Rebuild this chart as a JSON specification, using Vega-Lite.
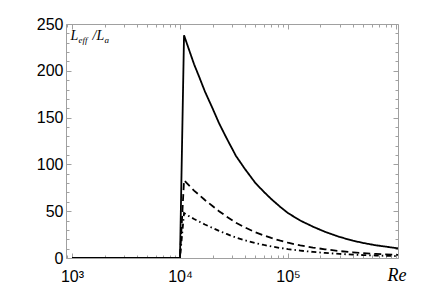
{
  "$schema": "https://vega.github.io/schema/vega-lite/v6.json",
  "width": 332,
  "height": 234,
  "autosize": {"type": "none"},
  "padding": {"left": 66, "top": 24, "right": 38, "bottom": 36},
  "background": "white",
  "config": {
    "view": {"stroke": null},
    "axis": {
      "grid": false,
      "domainColor": "#a0a0a0",
      "tickColor": "#a0a0a0",
      "domainWidth": 1,
      "tickWidth": 1,
      "labelColor": "black",
      "labelFont": "Liberation Sans",
      "labelFontSize": 16,
      "titleFont": "Liberation Serif",
      "titleFontStyle": "italic",
      "titleFontWeight": "normal",
      "titleColor": "black",
      "titleAngle": 0,
      "titleAlign": "left",
      "titleBaseline": "alphabetic"
    }
  },
  "datasets": {
    "curves": [
      {"Re": 1000, "L": 0, "s": "a"}, {"Re": 10000, "L": 0, "s": "a"}, {"Re": 10900, "L": 238, "s": "a"},
      {"Re": 12000, "L": 224, "s": "a"}, {"Re": 13500, "L": 207, "s": "a"}, {"Re": 15000, "L": 194, "s": "a"},
      {"Re": 17000, "L": 178, "s": "a"}, {"Re": 20000, "L": 160, "s": "a"}, {"Re": 23000, "L": 144, "s": "a"},
      {"Re": 27000, "L": 128, "s": "a"}, {"Re": 33000, "L": 109, "s": "a"}, {"Re": 40000, "L": 95, "s": "a"},
      {"Re": 50000, "L": 80, "s": "a"}, {"Re": 60000, "L": 70.5, "s": "a"}, {"Re": 70000, "L": 63, "s": "a"},
      {"Re": 85000, "L": 54.5, "s": "a"}, {"Re": 100000, "L": 48, "s": "a"}, {"Re": 130000, "L": 40, "s": "a"},
      {"Re": 170000, "L": 33.5, "s": "a"}, {"Re": 220000, "L": 28, "s": "a"}, {"Re": 300000, "L": 22.5, "s": "a"},
      {"Re": 400000, "L": 18.5, "s": "a"}, {"Re": 500000, "L": 16, "s": "a"}, {"Re": 650000, "L": 13.6, "s": "a"},
      {"Re": 800000, "L": 12.2, "s": "a"}, {"Re": 1000000, "L": 10.6, "s": "a"}, {"Re": 1044000, "L": 10.3, "s": "a"},
      {"Re": 1000, "L": 0, "s": "b"}, {"Re": 10000, "L": 0, "s": "b"}, {"Re": 10900, "L": 83, "s": "b"},
      {"Re": 12000, "L": 78, "s": "b"}, {"Re": 13500, "L": 72, "s": "b"}, {"Re": 15000, "L": 67.5, "s": "b"},
      {"Re": 17000, "L": 62, "s": "b"}, {"Re": 20000, "L": 55.5, "s": "b"}, {"Re": 23000, "L": 50, "s": "b"},
      {"Re": 27000, "L": 44.3, "s": "b"}, {"Re": 33000, "L": 37.6, "s": "b"}, {"Re": 40000, "L": 32.6, "s": "b"},
      {"Re": 50000, "L": 27.4, "s": "b"}, {"Re": 60000, "L": 24, "s": "b"}, {"Re": 70000, "L": 21.4, "s": "b"},
      {"Re": 85000, "L": 18.5, "s": "b"}, {"Re": 100000, "L": 16.3, "s": "b"}, {"Re": 130000, "L": 13.5, "s": "b"},
      {"Re": 170000, "L": 11.2, "s": "b"}, {"Re": 220000, "L": 9.3, "s": "b"}, {"Re": 300000, "L": 7.4, "s": "b"},
      {"Re": 400000, "L": 6.05, "s": "b"}, {"Re": 500000, "L": 5.2, "s": "b"}, {"Re": 650000, "L": 4.4, "s": "b"},
      {"Re": 800000, "L": 3.9, "s": "b"}, {"Re": 1000000, "L": 3.4, "s": "b"}, {"Re": 1044000, "L": 3.3, "s": "b"},
      {"Re": 1000, "L": 0, "s": "c"}, {"Re": 10000, "L": 0, "s": "c"}, {"Re": 10900, "L": 48, "s": "c"},
      {"Re": 12000, "L": 45, "s": "c"}, {"Re": 13500, "L": 41.7, "s": "c"}, {"Re": 15000, "L": 39, "s": "c"},
      {"Re": 17000, "L": 35.8, "s": "c"}, {"Re": 20000, "L": 32.2, "s": "c"}, {"Re": 23000, "L": 29, "s": "c"},
      {"Re": 27000, "L": 25.7, "s": "c"}, {"Re": 33000, "L": 21.8, "s": "c"}, {"Re": 40000, "L": 18.9, "s": "c"},
      {"Re": 50000, "L": 15.9, "s": "c"}, {"Re": 60000, "L": 13.9, "s": "c"}, {"Re": 70000, "L": 12.4, "s": "c"},
      {"Re": 85000, "L": 10.7, "s": "c"}, {"Re": 100000, "L": 9.5, "s": "c"}, {"Re": 130000, "L": 7.9, "s": "c"},
      {"Re": 170000, "L": 6.5, "s": "c"}, {"Re": 220000, "L": 5.4, "s": "c"}, {"Re": 300000, "L": 4.35, "s": "c"},
      {"Re": 400000, "L": 3.6, "s": "c"}, {"Re": 500000, "L": 3.1, "s": "c"}, {"Re": 650000, "L": 2.65, "s": "c"},
      {"Re": 800000, "L": 2.35, "s": "c"}, {"Re": 1000000, "L": 2.1, "s": "c"}, {"Re": 1044000, "L": 2, "s": "c"}
    ]
  },
  "data": {"name": "curves"},
  "layer": [
    {
      "mark": {"type": "line", "strokeWidth": 1.8, "color": "black", "clip": true},
      "encoding": {
        "x": {
          "field": "Re", "type": "quantitative",
          "scale": {"type": "log", "domain": [880, 1044000], "nice": false},
          "axis": {
            "orient": "bottom", "values": [1000, 10000, 100000, 1000000],
            "tickSize": -5, "labelPadding": 15, "labelFlush": false, "labelOverlap": false,
            "labelExpr": "datum.value == 1000 ? '10³' : datum.value == 10000 ? '10⁴' : datum.value == 100000 ? '10⁵' : ''",
            "title": "Re", "titleX": 321, "titleY": 22, "titleFontSize": 18
          }
        },
        "y": {
          "field": "L", "type": "quantitative",
          "scale": {"domain": [0, 250], "nice": false},
          "axis": {
            "orient": "left", "values": [0, 50, 100, 150, 200, 250],
            "tickSize": -5, "labelPadding": 8, "labelFlush": false, "labelOverlap": false,
            "title": "L", "titleX": 4, "titleY": 15, "titleFontSize": 14
          }
        },
        "strokeDash": {
          "field": "s", "type": "nominal",
          "scale": {"domain": ["a", "b", "c"], "range": [[1, 0], [7, 4], [5, 3, 1.5, 3]]},
          "legend": null
        }
      }
    },
    {
      "mark": {"type": "point", "opacity": 0},
      "encoding": {
        "x": {
          "field": "Re", "type": "quantitative",
          "scale": {"type": "log", "domain": [880, 1044000], "nice": false},
          "axis": {
            "orient": "bottom",
            "values": [900, 2000, 3000, 4000, 5000, 6000, 7000, 8000, 9000, 20000, 30000, 40000, 50000, 60000, 70000, 80000, 90000, 200000, 300000, 400000, 500000, 600000, 700000, 800000, 900000],
            "tickSize": -3, "labels": false, "domain": false, "title": null
          }
        },
        "y": {
          "field": "L", "type": "quantitative",
          "scale": {"domain": [0, 250], "nice": false},
          "axis": {
            "orient": "left",
            "values": [10, 20, 30, 40, 60, 70, 80, 90, 110, 120, 130, 140, 160, 170, 180, 190, 210, 220, 230, 240],
            "tickSize": -3, "labels": false, "domain": false,
            "title": "/L", "titleX": 26, "titleY": 15, "titleFontSize": 14
          }
        }
      }
    },
    {
      "mark": {"type": "point", "opacity": 0},
      "encoding": {
        "x": {
          "field": "Re", "type": "quantitative",
          "scale": {"type": "log", "domain": [880, 1044000], "nice": false},
          "axis": {"orient": "top", "values": [1000, 10000, 100000, 1000000], "tickSize": -5, "labels": false, "title": null}
        },
        "y": {
          "field": "L", "type": "quantitative",
          "scale": {"domain": [0, 250], "nice": false},
          "axis": {
            "orient": "right", "values": [0, 50, 100, 150, 200, 250], "tickSize": -5, "labels": false,
            "title": "eff", "titleX": -320, "titleY": 18, "titleFontSize": 9, "titleAngle": 0
          }
        }
      }
    },
    {
      "mark": {"type": "point", "opacity": 0},
      "encoding": {
        "x": {
          "field": "Re", "type": "quantitative",
          "scale": {"type": "log", "domain": [880, 1044000], "nice": false},
          "axis": {
            "orient": "top",
            "values": [900, 2000, 3000, 4000, 5000, 6000, 7000, 8000, 9000, 20000, 30000, 40000, 50000, 60000, 70000, 80000, 90000, 200000, 300000, 400000, 500000, 600000, 700000, 800000, 900000],
            "tickSize": -3, "labels": false, "domain": false, "title": null
          }
        },
        "y": {
          "field": "L", "type": "quantitative",
          "scale": {"domain": [0, 250], "nice": false},
          "axis": {
            "orient": "right",
            "values": [10, 20, 30, 40, 60, 70, 80, 90, 110, 120, 130, 140, 160, 170, 180, 190, 210, 220, 230, 240],
            "tickSize": -3, "labels": false, "domain": false,
            "title": "a", "titleX": -294, "titleY": 18, "titleFontSize": 9, "titleAngle": 0
          }
        }
      }
    }
  ],
  "resolve": {"axis": {"x": "independent", "y": "independent"}}
}
